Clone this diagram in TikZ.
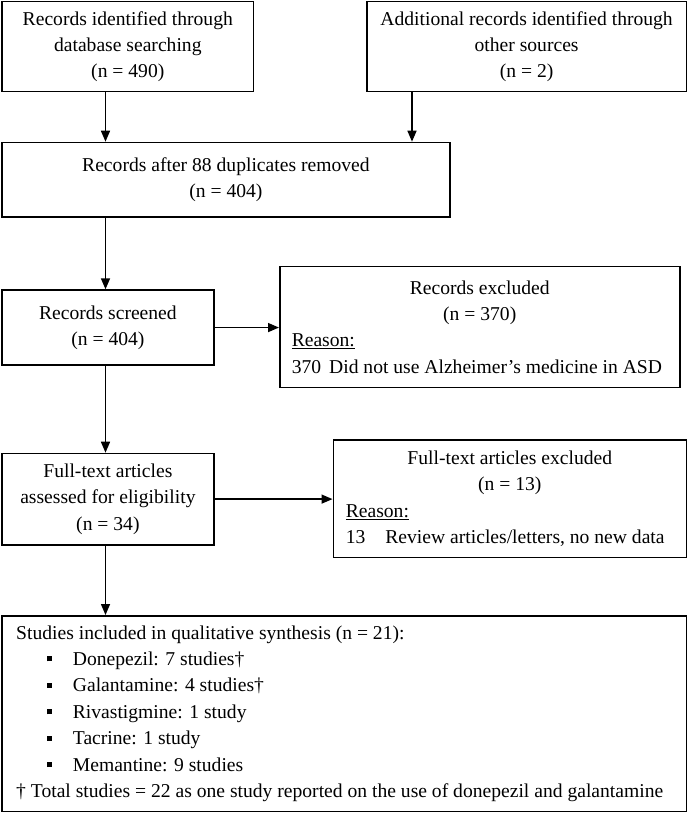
\documentclass[tikz,border=0pt]{standalone}
\usepackage{fontspec}
\setmainfont{Liberation Serif}
\usetikzlibrary{arrows.meta}
\setlength{\parindent}{0pt}
\begin{document}
\begin{tikzpicture}[x=1pt,y=-1pt,
  box/.style={draw=black,line width=1.5pt,rectangle,anchor=north west,inner sep=0pt,
    font=\fontsize{19.6}{26.4}\selectfont},
  arr/.style={line width=1.5pt,-{Triangle[length=11pt,width=9pt]}}]
\useasboundingbox (0,0) rectangle (687,813);
\node[box,minimum width=251.5pt,minimum height=90pt,align=center] (b1) at (1.3,1)
  {Records identified through\\database searching\\(n = 490)};
\node[box,minimum width=319.7pt,minimum height=90pt,align=center] (b2) at (366,1)
  {Additional records identified through\\other sources\\(n = 2)};
\node[box,minimum width=447.7pt,minimum height=74.3pt,align=center] (b3) at (1.3,141.7)
  {Records after 88 duplicates removed\\(n = 404)};
\node[box,minimum width=211.7pt,minimum height=75pt,align=center] (b4) at (1.3,289.3)
  {Records screened\\(n = 404)};
\node[box,minimum width=400pt,minimum height=121pt,align=left] (b5) at (279,265.7)
  {\makebox[376pt]{Records excluded}\\\makebox[376pt]{(n = 370)}\\\underline{Reason:}\\370\hspace{8pt}Did not use Alzheimer’s medicine in ASD};
\node[box,minimum width=211.7pt,minimum height=91.3pt,align=center] (b6) at (1.3,452.7)
  {Full-text articles\\assessed for eligibility\\(n = 34)};
\node[box,minimum width=353.1pt,minimum height=117.7pt,align=left] (b7) at (332.5,439)
  {\makebox[328pt]{Full-text articles excluded}\\\makebox[328pt]{(n = 13)}\\\underline{Reason:}\\13\hspace{20pt}Review articles/letters, no new data};
\newcommand{\sqbul}{\hspace*{30.7pt}\raisebox{4pt}{\rule{5pt}{5pt}}\hspace*{21pt}}
\node[box,minimum width=684.3pt,minimum height=195.7pt,align=left] (b8) at (1.3,615)
  {\makebox[656pt][l]{Studies included in qualitative synthesis (n = 21):}\\
   \sqbul Donepezil: 7 studies†\\
   \sqbul Galantamine: 4 studies†\\
   \sqbul Rivastigmine: 1 study\\
   \sqbul Tacrine: 1 study\\
   \sqbul Memantine: 9 studies\\
   † Total studies = 22 as one study reported on the use of donepezil and galantamine};
\coordinate (colx) at (105.5,0);
\coordinate (colr) at (412,0);
\draw[arr] (b1.south -| colx) -- (b3.north -| colx);
\draw[arr] (b2.south -| colr) -- (b3.north -| colr);
\draw[arr] (b3.south -| colx) -- (b4.north -| colx);
\draw[arr] (b4.south -| colx) -- (b6.north -| colx);
\draw[arr] (b6.south -| colx) -- (b8.north -| colx);
\draw[arr] (b4.east) -- (b5.west |- b4.east);
\draw[arr] (b6.east) -- (b7.west |- b6.east);
\end{tikzpicture}
\end{document}
